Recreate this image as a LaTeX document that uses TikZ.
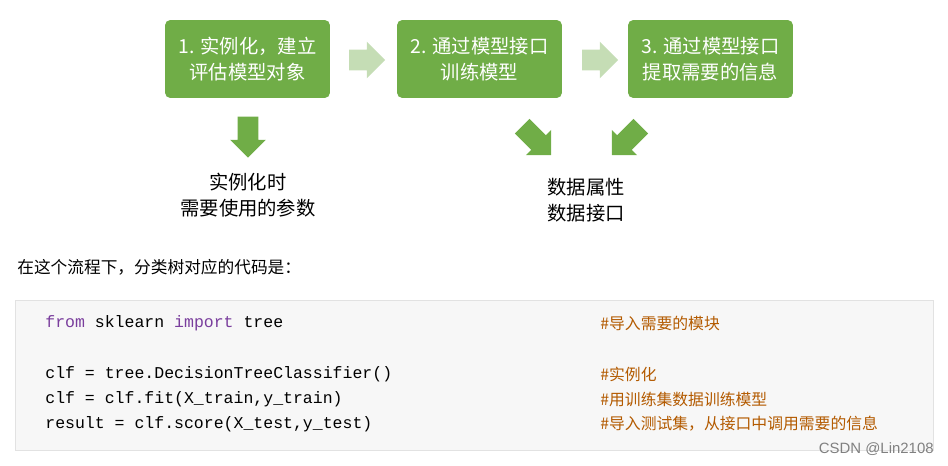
\documentclass[tikz,border=0pt]{standalone}
\usepackage{fontspec}
\setmainfont{Liberation Sans}
\newfontfamily\cjk{Noto Sans CJK SC}
\newfontfamily\codefont{Liberation Mono}
\usetikzlibrary{shapes.arrows,positioning}

\definecolor{stepgreen}{HTML}{70AD47}
\definecolor{palegreen}{HTML}{C5DDB5}
\definecolor{codebg}{HTML}{F7F7F7}
\definecolor{codeline}{HTML}{E2E2E2}
\definecolor{kwpurple}{HTML}{7A3E9D}
\definecolor{cmtbrown}{HTML}{B35A00}

\tikzset{
  stage/.style={rectangle,rounded corners=3pt,fill=stepgreen,text=white,
    minimum width=3.3cm,minimum height=1.56cm,align=center,
    font=\fontsize{11}{14.5}\cjk},
  flow/.style={single arrow,fill=palegreen,draw=none,minimum height=0.72cm,
    single arrow head extend=0.16cm,inner sep=0.2cm},
  down/.style={single arrow,fill=stepgreen,draw=none,minimum height=0.82cm,
    single arrow head extend=0.15cm,inner sep=0.2cm},
  note/.style={align=center,font=\fontsize{11}{14.5}\cjk},
  code/.style={anchor=west,inner sep=0pt,font=\fontsize{9.4}{11}\codefont},
  cmt/.style={anchor=west,inner sep=0pt,text=cmtbrown,font=\fontsize{9}{10}\cjk}
}

\begin{document}
\begin{tikzpicture}[x=0.02cm,y=-0.02cm]
\useasboundingbox (0,0) rectangle (948,466);

\node[stage] (s1) at (247.5,59) {1. 实例化，建立\\评估模型对象};
\node[stage] (s2) at (479.5,59) {2. 通过模型接口\\训练模型};
\node[stage] (s3) at (710.5,59) {3. 通过模型接口\\提取需要的信息};

\node[flow] (f1) at (362,60) {};
\node[flow] (f2) at (595,60) {};

\node[down,rotate=-90] (d1) at (248,132) {};
\node[down,rotate=-45] (d2) at (533,137) {};
\node[down,rotate=-135] (d3) at (630,137) {};

\node[note] (n1) at (248,195) {实例化时\\需要使用的参数};
\node[note] (n2) at (586,200) {数据属性\\数据接口};

\node[anchor=west,inner sep=0pt,font=\fontsize{9.5}{11}\cjk] (intro) at (17,267)
  {在这个流程下，分类树对应的代码是：};

\draw[codeline,fill=codebg] (15,300) rectangle (933,450);

\node[code] (c1) at (45,323) {\textcolor{kwpurple}{from} sklearn \textcolor{kwpurple}{import} tree};
\node[code] (c2) at (45,374) {clf = tree.DecisionTreeClassifier()};
\node[code] (c3) at (45,399) {clf = clf.fit(X\_train,y\_train)};
\node[code] (c4) at (45,424) {result = clf.score(X\_test,y\_test)};

\node[cmt] (m1) at (600,323) {\#导入需要的模块};
\node[cmt] (m2) at (600,374) {\#实例化};
\node[cmt] (m3) at (600,399) {\#用训练集数据训练模型};
\node[cmt] (m4) at (600,424) {\#导入测试集，从接口中调用需要的信息};

\node[anchor=east,inner sep=0pt,text=gray,font=\fontsize{8.5}{10}\selectfont] (wm) at (934,449) {CSDN @Lin2108};
\end{tikzpicture}
\end{document}
